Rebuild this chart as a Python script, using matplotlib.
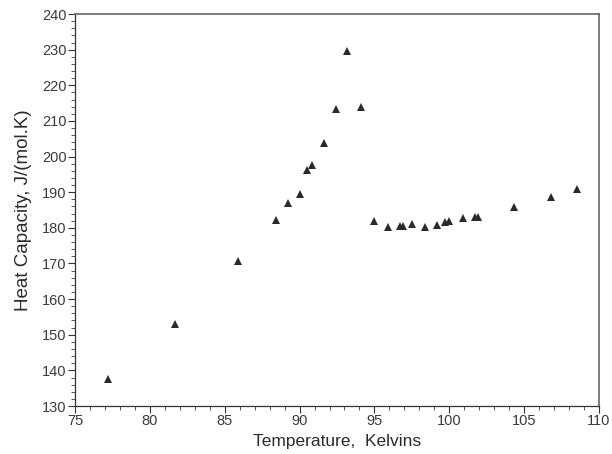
import matplotlib
matplotlib.use("Agg")
import matplotlib.pyplot as plt
from matplotlib.ticker import MultipleLocator

temp_K = [77.2, 81.7, 85.9, 88.4, 89.2, 90.0, 90.5, 90.8, 91.6, 92.4, 93.2, 94.1,
          95.0, 95.9, 96.7, 96.9, 97.5, 98.4, 99.2, 99.7, 100.0, 100.9, 101.7, 101.9,
          104.3, 106.8, 108.5]
heat_cap = [137.6, 153.0, 170.7, 182.2, 187.0, 189.6, 196.3, 197.7, 203.9, 213.4, 229.7, 213.9,
            182.0, 180.2, 180.5, 180.5, 181.1, 180.2, 180.8, 181.6, 181.9, 182.7, 183.0, 183.0,
            185.8, 188.6, 190.9]

plt.rcParams['font.family'] = ['Liberation Sans', 'DejaVu Sans']

fig = plt.figure(figsize=(6.12, 4.54), dpi=100)
ax = fig.add_axes([0.1225, 0.1057, 0.8563, 0.8633])

ax.plot(temp_K, heat_cap, linestyle='none', marker='^', markersize=5.5,
        color='#2a2a2a', markeredgewidth=0)

ax.set_xlim(75, 110)
ax.set_ylim(130, 240)
ax.xaxis.set_major_locator(MultipleLocator(5))
ax.xaxis.set_minor_locator(MultipleLocator(1))
ax.yaxis.set_major_locator(MultipleLocator(10))
ax.yaxis.set_minor_locator(MultipleLocator(2))

ax.tick_params(which='major', direction='out', length=5, width=0.8, colors='#333333',
               labelsize=10.5, pad=1)
ax.tick_params(which='minor', direction='out', length=3, width=0.7, colors='#555555')
for lbl in ax.get_xticklabels() + ax.get_yticklabels():
    lbl.set_color('#3a3a3a')

for side in ['left', 'bottom']:
    ax.spines[side].set_color('#333333')
    ax.spines[side].set_linewidth(0.9)
for side in ['top', 'right']:
    ax.spines[side].set_color('#666666')
    ax.spines[side].set_linewidth(1.2)

ax.set_xlabel('Temperature,  Kelvins', fontsize=12.5, color='#2a2a2a', labelpad=4)
ax.set_ylabel('Heat Capacity, J/(mol.K)', fontsize=13.5, color='#2a2a2a', labelpad=7)

fig.savefig('out.png', dpi=100)
